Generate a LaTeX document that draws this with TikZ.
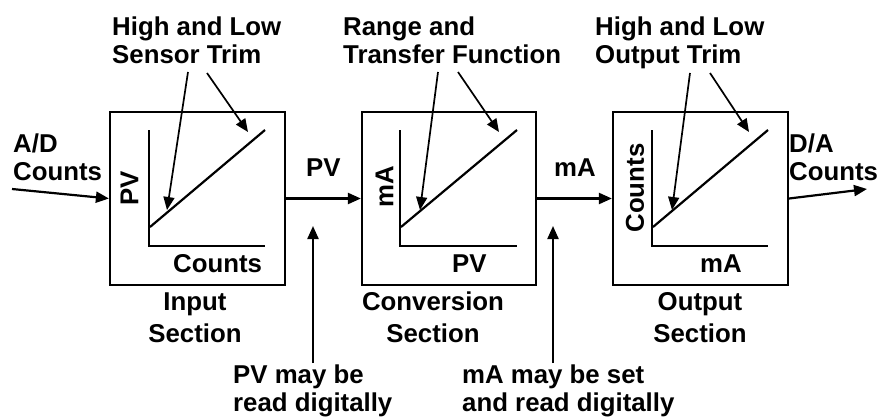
\documentclass[tikz,border=0pt]{standalone}
\usepackage{fontspec}
\setmainfont{Liberation Sans}
\usetikzlibrary{arrows.meta}
\begin{document}
\begin{tikzpicture}[x=1pt,y=-1pt,
  lbl/.style={font=\fontsize{25.8}{28}\selectfont\bfseries, inner sep=0pt, anchor=base west},
  clbl/.style={font=\fontsize{25.8}{28}\selectfont\bfseries, inner sep=0pt, anchor=base},
  rlbl/.style={font=\fontsize{25.8}{28}\selectfont\bfseries, inner sep=0pt, rotate=90, anchor=center},
  sect/.style={draw, line width=2.2pt, minimum height=173pt, inner sep=0pt},
  axis/.style={line width=2.2pt},
  arr/.style={line width=2.2pt, -{Triangle[length=13pt,width=11pt]}},
  thin/.style={line width=1.7pt, -{Triangle[length=13pt,width=11pt]}}
]
\useasboundingbox (0,0) rectangle (888,417);
% boxes
\node[sect, minimum width=175pt] (b1) at (197.5,198.5) {};
\node[sect, minimum width=174pt] (b2) at (449,198.5) {};
\node[sect, minimum width=175pt] (b3) at (700.5,198.5) {};
% axes
\coordinate (a1t) at (149,130); \coordinate (a1o) at (149,246); \coordinate (a1r) at (265,246);
\coordinate (d1s) at (150,227); \coordinate (d1e) at (265,130);
\coordinate (a2t) at (400,130); \coordinate (a2o) at (400,246); \coordinate (a2r) at (517,246);
\coordinate (d2s) at (401,227); \coordinate (d2e) at (517,130);
\coordinate (a3t) at (652,130); \coordinate (a3o) at (652,246); \coordinate (a3r) at (768,246);
\coordinate (d3s) at (653,227); \coordinate (d3e) at (768,130);
\draw[axis] (a1t) -- (a1o) -- (a1r);
\draw[axis] (d1s) -- (d1e);
\draw[axis] (a2t) -- (a2o) -- (a2r);
\draw[axis] (d2s) -- (d2e);
\draw[axis] (a3t) -- (a3o) -- (a3r);
\draw[axis] (d3s) -- (d3e);
% axis labels
\node[rlbl] (y1) at (129.5,188) {PV};
\node[lbl] (x1) at (173,272) {Counts};
\node[rlbl] (y2) at (384.5,187) {mA};
\node[lbl] (x2) at (452,272) {PV};
\node[rlbl] (y3) at (635,188) {Counts};
\node[lbl] (x3) at (700,272) {mA};
% main signal line
\coordinate (in) at (12,189);
\coordinate (out) at (867,189);
\draw[arr] (in) -- (b1.west);
\draw[arr] (b1.east) -- (b2.west);
\draw[arr] (b2.east) -- (b3.west);
\draw[arr] (b3.east) -- (out);
\node[lbl] (ad1) at (13,152) {A/D};
\node[lbl] (ad2) at (13,180) {Counts};
\node[lbl] (pv) at (306,176) {PV};
\node[lbl] (ma) at (554,176) {mA};
\node[lbl] (da1) at (789,152) {D/A};
\node[lbl] (da2) at (789,180) {Counts};
% top labels
\node[lbl] (t1a) at (112,36) {High and Low};
\node[lbl] (t1b) at (112,64) {Sensor Trim};
\node[lbl] (t2a) at (343,36) {Range and};
\node[lbl] (t2b) at (343,64) {Transfer Function};
\node[lbl] (t3a) at (595,36) {High and Low};
\node[lbl] (t3b) at (595,64) {Output Trim};
\coordinate (p1a) at (188,72); \coordinate (q1a) at (167,210);
\coordinate (p1b) at (207,73); \coordinate (q1b) at (248,132);
\coordinate (p2a) at (438,72); \coordinate (q2a) at (420,210);
\coordinate (p2b) at (458,72); \coordinate (q2b) at (499,132);
\coordinate (p3a) at (690,73); \coordinate (q3a) at (672,210);
\coordinate (p3b) at (710,73); \coordinate (q3b) at (749,132);
\draw[thin] (p1a) -- (q1a);
\draw[thin] (p1b) -- (q1b);
\draw[thin] (p2a) -- (q2a);
\draw[thin] (p2b) -- (q2b);
\draw[thin] (p3a) -- (q3a);
\draw[thin] (p3b) -- (q3b);
% section labels
\node[clbl] (s1a) at (195,310) {Input};
\node[clbl] (s1b) at (195,342) {Section};
\node[clbl] (s2a) at (433,310) {Conversion};
\node[clbl] (s2b) at (433,342) {Section};
\node[clbl] (s3a) at (700,310) {Output};
\node[clbl] (s3b) at (700,342) {Section};
% bottom notes
\node[lbl] (n1a) at (233,383) {PV may be};
\node[lbl] (n1b) at (233,411) {read digitally};
\node[lbl] (n2a) at (462,383) {mA may be set};
\node[lbl] (n2b) at (462,411) {and read digitally};
\coordinate (v1s) at (313,363); \coordinate (v1e) at (313,226);
\coordinate (v2s) at (553,363); \coordinate (v2e) at (553,226);
\draw[arr] (v1s) -- (v1e);
\draw[arr] (v2s) -- (v2e);
\end{tikzpicture}
\end{document}
